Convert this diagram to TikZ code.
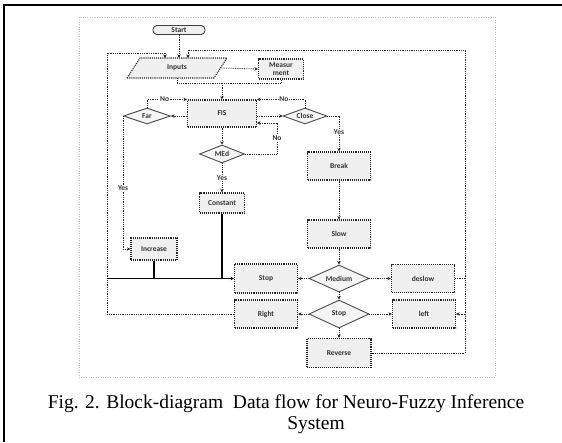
\documentclass[tikz,border=0pt]{standalone}
\usepackage{fontspec}
\setmainfont{Liberation Serif}
\newfontfamily\boxfont{Carlito}
\usetikzlibrary{shapes.geometric,arrows.meta}
\begin{document}
\begin{tikzpicture}[x=1pt,y=-1pt,
  bfont/.style={font=\boxfont\bfseries\fontsize{7.5}{8}\selectfont, text=black!80},
  box/.style={bfont, draw=black!85, densely dotted, line width=1.1pt, fill=gray!12, inner sep=1pt},
  dia/.style={bfont, diamond, aspect=3, draw=black!70, line width=0.9pt, fill=gray!8, inner sep=0pt},
  con/.style={densely dotted, line width=0.8pt, draw=black!85, -{Stealth[length=3.5pt,width=3.5pt]}},
  conn/.style={densely dotted, line width=0.8pt, draw=black!85},
  solidl/.style={line width=1.1pt, draw=black},
  lab/.style={bfont, fill=white, inner sep=0.6pt}
]
\useasboundingbox (0,0) rectangle (562,442);
% frames
\draw[line width=1.6pt] (4,442) -- (4,5) -- (562,5);
\draw[gray!50, dotted, line width=0.4pt] (79,17) rectangle (495,377);

% nodes
\node[box, solid, draw=black!75, line width=0.9pt, rounded corners=4pt, minimum width=52, minimum height=9, inner sep=0.5pt] (start) at (179,30) {Start};
\draw[draw=black!85, densely dotted, line width=1.1pt, fill=gray!12] (127,78) -- (140,58) -- (227,58) -- (214,78) -- cycle;
\node[bfont, minimum width=87, minimum height=20, inner sep=0pt] (inputs) at (177,68) {Inputs};
\node[box, minimum width=45, minimum height=20, align=center, inner sep=0.5pt, font=\boxfont\bfseries\fontsize{7.5}{7.5}\selectfont] (meas) at (281,69) {Measur\\ment};
\node[box, minimum width=69, minimum height=27] (fis) at (222,113.5) {FIS};
\node[dia, minimum width=47, minimum height=16] (far) at (147,116) {Far};
\node[dia, minimum width=44, minimum height=16] (close) at (305,116) {Close};
\node[dia, minimum width=45, minimum height=18] (med) at (222,154) {MEd};
\node[box, minimum width=45, minimum height=20] (constant) at (222,203) {Constant};
\node[box, minimum width=46, minimum height=22] (increase) at (154,249) {Increase};
\node[box, minimum width=63, minimum height=28] (breakb) at (339,166) {Break};
\node[box, minimum width=63, minimum height=28] (slow) at (339,234) {Slow};
\node[box, minimum width=63, minimum height=29] (stopb) at (266,278.5) {Stop};
\node[box, minimum width=63, minimum height=28] (rightb) at (266,314) {Right};
\node[dia, minimum width=60, minimum height=27] (medium) at (339,278.5) {Medium};
\node[dia, minimum width=60, minimum height=28] (stopd) at (339,314) {Stop};
\node[box, minimum width=63, minimum height=28] (deslow) at (423,278.5) {deslow};
\node[box, minimum width=63, minimum height=28] (leftb) at (424,314) {left};
\node[box, minimum width=64, minimum height=29] (reverse) at (339,353) {Reverse};

% coordinates
\coordinate (lbend) at (107,53);
\coordinate (inl) at (165,58);
\coordinate (rbend) at (465,50);
\coordinate (inr) at (188,58);
\coordinate (jn) at (222,83);
\coordinate (mnoup) at (277,123);
\coordinate (fisin) at (257,123);
\coordinate (jl) at (107,278.5);

% connectors
\draw[con] (start) -- (start.south |- inputs.north);
\draw[con] (rightb.west) -| (lbend) -| (inl);
\draw[con] (reverse.east) -| (rbend) -| (inr);
\draw[con] (inputs.east) -- (meas.west);
\draw[conn] (inputs.south) -- ++(0,5) -| (meas.south);
\draw[con] (jn) -- (fis.north);
\draw[con] (fis.west |- far.east) -- (far.east);
\draw[con] (fis.east |- close.west) -- (close.west);
\draw[con] (far.north) |- node[lab, pos=0.72] {No} (fis.north west);
\draw[con] (close.north) |- node[lab, pos=0.72] {No} (fis.north east);
\draw[con] (close.east) -| node[lab, pos=0.72] {Yes} (breakb.north);
\draw[con] (breakb) -- (slow);
\draw[con] (slow) -- (medium);
\draw[con] (fis) -- (med);
\draw[conn] (med.east) -| node[lab, pos=0.75] {No} (mnoup);
\draw[con] (mnoup) -- (fisin);
\draw[con] (med) -- node[lab] {Yes} (constant);
\draw[con] (far.west) |- node[lab, pos=0.27] {Yes} (increase.west);
\draw[solidl] (increase.south) -- (increase.south |- jl);
\draw[solidl] (constant.south) -- (constant.south |- jl);
\draw[solidl, -{Stealth[length=3.5pt,width=3.5pt]}] (jl) -- (stopb.west);
\draw[con] (medium.west) -- (stopb.east);
\draw[con] (medium.east) -- (deslow.west);
\draw[con] (medium) -- (stopd);
\draw[con] (stopd.west) -- (rightb.east);
\draw[con] (stopd.east) -- (leftb.west);
\draw[con] (stopd) -- (reverse);
\draw[conn] (deslow.east) -- (deslow.east -| rbend);
\draw[con] (leftb.east -| rbend) -- (leftb.east);

% caption
\node[font=\fontsize{19.5}{21}\selectfont, anchor=base, inner sep=0pt] (cap1) at (286,408) {Fig. 2. Block-diagram\ \ Data flow for Neuro-Fuzzy Inference};
\node[font=\fontsize{19.5}{21}\selectfont, anchor=base, inner sep=0pt] (cap2) at (316,429) {System};
\end{tikzpicture}
\end{document}
